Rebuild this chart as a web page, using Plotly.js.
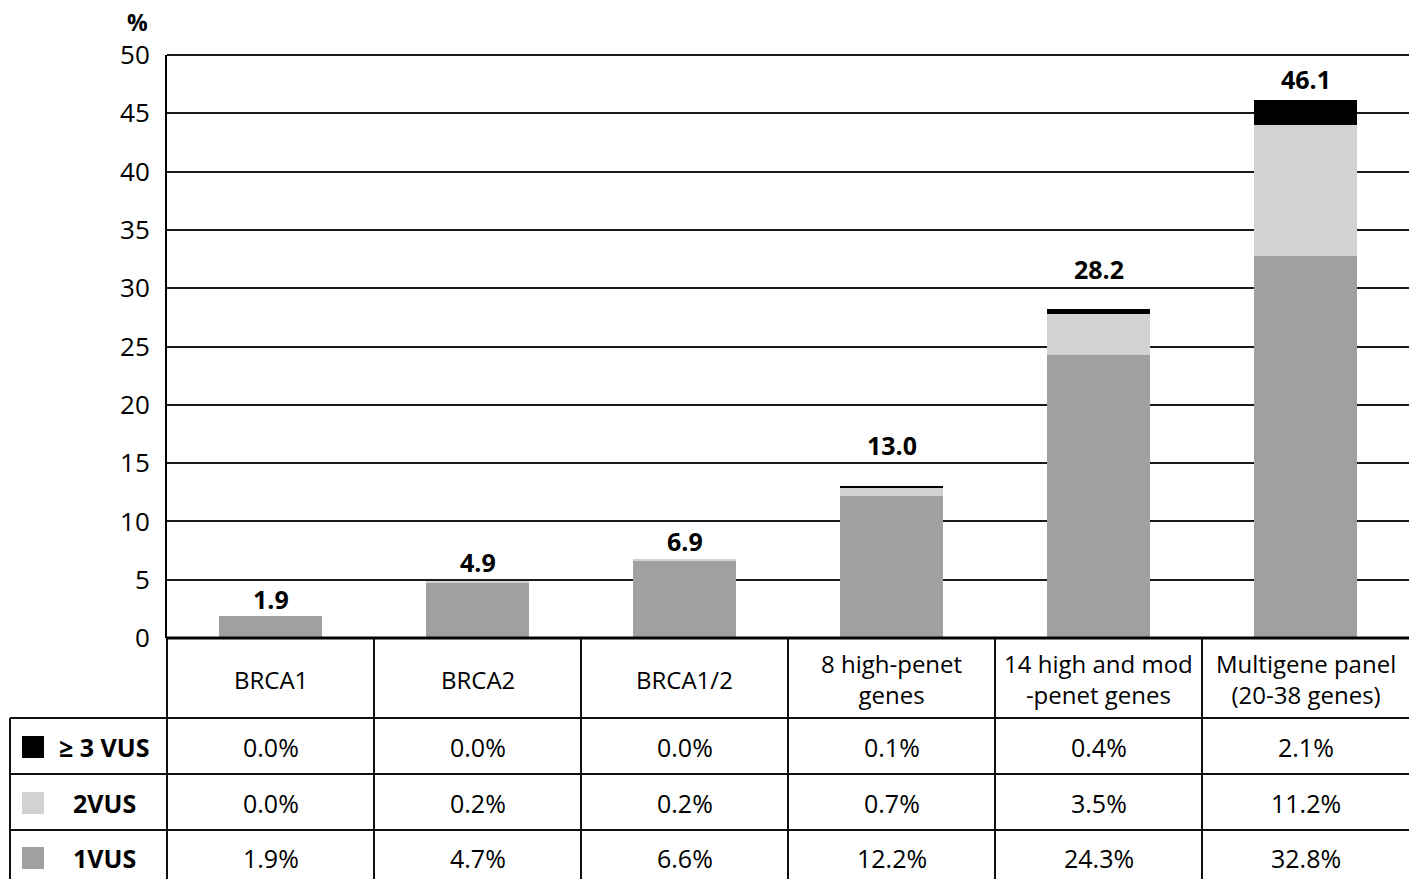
<!DOCTYPE html>
<html>
<head>
<meta charset="utf-8">
<script src="https://cdn.plot.ly/plotly-3.0.1.min.js"></script>
<style>
html,body{margin:0;padding:0;background:#fff;}
#chart{width:1409px;height:879px;}
</style>
</head>
<body>
<div id="chart"></div>
<script>
// ---- data ----
var categories = ['BRCA1', 'BRCA2', 'BRCA1/2', '8 high-penet<br>genes', '14 high and mod<br>-penet genes', 'Multigene panel<br>(20-38 genes)'];
var vus1 = [1.9, 4.7, 6.6, 12.2, 24.3, 32.8];
var vus2 = [0.0, 0.2, 0.2, 0.7, 3.5, 11.2];
var vus3 = [0.0, 0.0, 0.0, 0.1, 0.4, 2.1];
var totals = [1.9, 4.9, 6.9, 13.0, 28.2, 46.1];
var seriesNames = ['1VUS', '2VUS', '\u2265 3 VUS'];
var seriesColors = ['#a0a0a0', '#d2d2d2', '#000000'];

// ---- layout-only settings ----
var labelShift = [-2, 0, -2, 22, 21, 2]; // px gap between bar top and its total label

// ---- geometry helpers (pixel -> paper) ----
var W = 1409, H = 879;
var M = {l: 167, r: 0, t: 55, b: 241};
var plotW = W - M.l - M.r, plotH = H - M.t - M.b;
function px(x) { return (x - M.l) / plotW; }
function py(y) { return 1 - (y - M.t) / plotH; }

var FONT = '"Open Sans", "Noto Sans", sans-serif';
var idx = categories.map(function (_, i) { return i; });

var seriesVals = [vus1, vus2, vus3];
var traces = seriesVals.map(function (vals, s) {
  return {
    type: 'bar', x: idx, y: vals, name: seriesNames[s],
    marker: {color: seriesColors[s], line: {width: 0}},
    width: 0.5, hoverinfo: 'skip'
  };
});

var shapes = [];
var annotations = [];
var lineStyle = {color: '#111', width: 2};

// top gridline at 50
shapes.push({type: 'line', xref: 'paper', yref: 'paper', x0: 0, x1: 1, y0: 1, y1: 1, line: {color: '#1a1a1a', width: 2}});
// table horizontal lines
[718, 774, 830].forEach(function (y) {
  shapes.push({type: 'line', xref: 'paper', yref: 'paper', x0: px(10), x1: 1, y0: py(y), y1: py(y), line: lineStyle});
});
// left border of legend column
shapes.push({type: 'line', xref: 'paper', yref: 'paper', x0: px(10), x1: px(10), y0: py(718), y1: py(879), line: lineStyle});
// extension of y axis line down through the table
shapes.push({type: 'line', xref: 'paper', yref: 'paper', x0: 0, x1: 0, y0: 0, y1: py(879), line: lineStyle});
// column separators
for (var i = 0; i < categories.length - 1; i++) {
  shapes.push({type: 'line', xref: 'paper', yref: 'paper', x0: (i + 1) / categories.length, x1: (i + 1) / categories.length, y0: 0, y1: py(879), line: lineStyle});
}
// zero line / table top
shapes.push({type: 'line', xref: 'paper', yref: 'paper', x0: 0, x1: 1, y0: 0, y1: 0, line: {color: '#000', width: 3}});

// legend swatches and labels
var rowCenters = [747, 803, 858];
var rowSeries = [2, 1, 0];
rowSeries.forEach(function (s, r) {
  var c = rowCenters[r];
  shapes.push({type: 'rect', xref: 'paper', yref: 'paper', x0: px(22), x1: px(44), y0: py(c - 11), y1: py(c + 11), fillcolor: seriesColors[s], line: {width: 0}});
  annotations.push({xref: 'paper', yref: 'paper', x: px(104), y: py(c), xanchor: 'center', yanchor: 'middle', showarrow: false,
    text: '<b>' + seriesNames[s] + '</b>', font: {family: FONT, size: 25, color: '#000'}});
  seriesVals[s].forEach(function (v, i) {
    annotations.push({xref: 'x', yref: 'paper', x: i, y: py(c), xanchor: 'center', yanchor: 'middle', showarrow: false,
      text: v.toFixed(1) + '%', font: {family: FONT, size: 25, color: '#000'}});
  });
});

// category header labels
categories.forEach(function (c, i) {
  annotations.push({xref: 'x', yref: 'paper', x: i, y: py(679), xanchor: 'center', yanchor: 'middle', showarrow: false,
    text: c, font: {family: FONT, size: 24, color: '#000'}});
});

// total labels above bars
totals.forEach(function (t, i) {
  annotations.push({xref: 'x', yref: 'y', x: i, y: t, xanchor: 'center', yanchor: 'bottom', yshift: labelShift[i], showarrow: false,
    text: '<b>' + t.toFixed(1) + '</b>', font: {family: FONT, size: 25, color: '#000'}});
});

// % unit label
annotations.push({xref: 'paper', yref: 'paper', x: px(137), y: py(22), xanchor: 'center', yanchor: 'middle', showarrow: false,
  text: '<b>%</b>', font: {family: FONT, size: 23, color: '#000'}});

var layout = {
  width: W, height: H,
  margin: M,
  paper_bgcolor: '#fff', plot_bgcolor: '#fff',
  barmode: 'stack',
  showlegend: false,
  xaxis: {range: [-0.5, categories.length - 0.5], showticklabels: false, showgrid: false, zeroline: false, showline: false, ticks: '', fixedrange: true},
  yaxis: {range: [0, 50], dtick: 5, tick0: 0, showgrid: true, gridcolor: '#1a1a1a', gridwidth: 2,
    showline: true, linecolor: '#000', linewidth: 2, zeroline: false, ticks: '', ticklabelstandoff: 10,
    tickfont: {family: FONT, size: 26, color: '#000'}, fixedrange: true},
  shapes: shapes,
  annotations: annotations,
  font: {family: FONT}
};

Plotly.newPlot('chart', traces, layout, {displayModeBar: false, staticPlot: true});
</script>
</body>
</html>
